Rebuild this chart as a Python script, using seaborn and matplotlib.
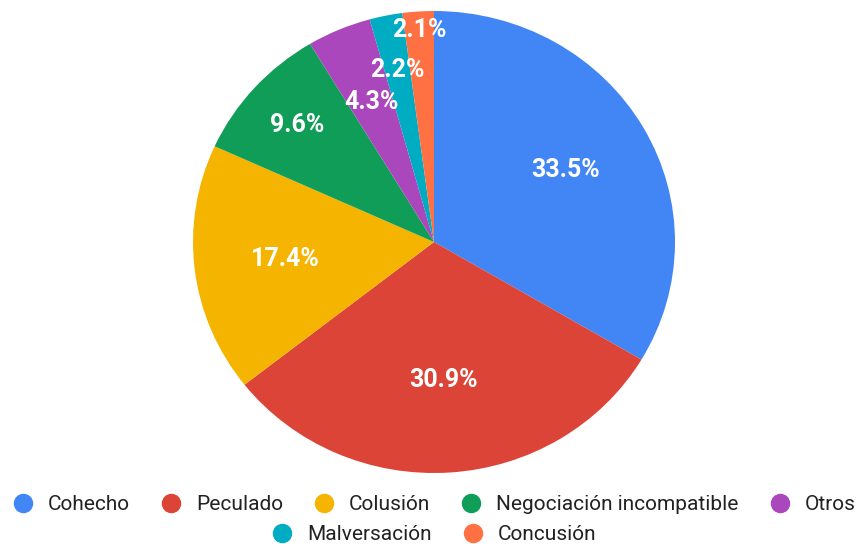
# plot.py
# Pie chart: distribution of corruption offences (percent)
import numpy as np
import seaborn as sns
import matplotlib.pyplot as plt
from matplotlib.lines import Line2D

# ----- data -----
categories = ["Cohecho", "Peculado", "Colusión", "Negociación incompatible",
              "Otros", "Malversación", "Concusión"]
shares = [33.5, 30.9, 17.4, 9.6, 4.3, 2.2, 2.1]
colors = ["#4285F4", "#DB4437", "#F4B400", "#0F9D58", "#AB47BC", "#00ACC1", "#FF7043"]
# radial position of each percentage label (fraction of radius)
label_radius = [0.63, 0.60, 0.62, 0.76, 0.66, 0.76, 0.92]

sns.set_theme(style="white")
plt.rcParams["font.family"] = ["Roboto", "DejaVu Sans"]

fig = plt.figure(figsize=(8.6, 5.44), dpi=100)
ax = fig.add_axes([193 / 860, 71 / 544, 482 / 860, 462 / 544])

wedges, _ = ax.pie(shares, colors=colors, startangle=90, counterclock=False,
                   radius=1, wedgeprops=dict(linewidth=0))
ax.set_aspect("auto")
ax.set_xlim(-1, 1)
ax.set_ylim(-1, 1)
ax.axis("off")

for w, val, r in zip(wedges, shares, label_radius):
    mid = np.deg2rad((w.theta1 + w.theta2) / 2)
    ax.text(r * np.cos(mid), r * np.sin(mid), f"{val:.1f}%", ha="center", va="center",
            color="white", fontsize=18, fontweight="bold")

handles = [Line2D([], [], marker="o", linestyle="none", markersize=13,
                  markerfacecolor=c, markeredgecolor=c) for c in colors]

leg_kw = dict(loc="center", frameon=False, fontsize=15, handlelength=1.0,
              handletextpad=0.7, columnspacing=1.47, borderpad=0, labelcolor="#222222")
fig.legend(handles[:5], categories[:5], ncol=5,
           bbox_to_anchor=(434 / 860, 1 - 505 / 544), **leg_kw)
fig.legend(handles[5:], categories[5:], ncol=2,
           bbox_to_anchor=(434 / 860, 1 - 535 / 544), **leg_kw)

fig.savefig("out.png", dpi=100)
